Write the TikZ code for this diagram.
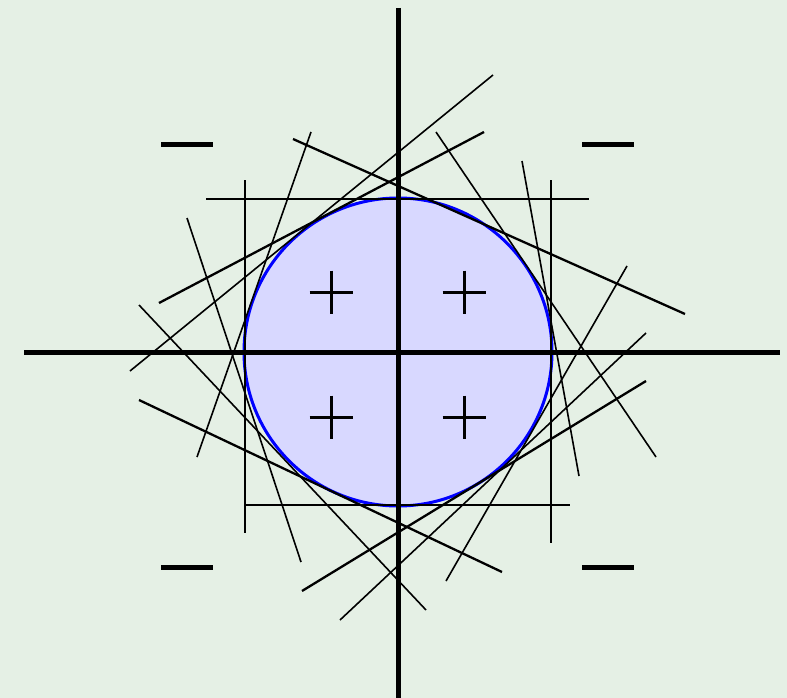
\documentclass[tikz,border=0pt]{standalone}
\begin{document}
\begin{tikzpicture}[x=1pt,y=-1pt,
  thin tangent/.style={line width=1.6pt,black},
  thick tangent/.style={line width=2.3pt,black},
  axis/.style={line width=5pt,black},
  plusmark/.style={line width=3pt,black},
  minusmark/.style={line width=5pt,black}]
\definecolor{bg}{RGB}{229,240,229}
\definecolor{disc}{RGB}{216,216,255}
\fill[bg] (0,0) rectangle (787,698);
\useasboundingbox (0,0) rectangle (787,698);
\coordinate (O) at (398,352);
% disc
\filldraw[fill=disc,draw=blue,line width=3pt] (O) circle (154);
% tangent square
\draw[thin tangent] (245,180) -- (245,533);
\draw[thin tangent] (551,180) -- (551,543);
\draw[thin tangent] (206,199) -- (589,199);
\draw[thin tangent] (244,505) -- (570,505);
% slanted tangents
\draw[thin tangent] (493,75) -- (130,371);
\draw[thick tangent] (484,132) -- (159,303);
\draw[thin tangent] (311,132) -- (197,457);
\draw[thick tangent] (293,139) -- (685,314);
\draw[thin tangent] (436,132) -- (656,457);
\draw[thin tangent] (522,161) -- (579,476);
\draw[thin tangent] (627,266) -- (446,581);
\draw[thin tangent] (646,333) -- (340,620);
\draw[thick tangent] (646,381) -- (302,591);
\draw[thin tangent] (139,305) -- (426,610);
\draw[thin tangent] (187,218) -- (301,562);
\draw[thick tangent] (139,400) -- (502,572);
% axes
\draw[axis] (24,352) -- (780,352);
\draw[axis] (398,8) -- (398,698);
% plus marks
\foreach \px/\py in {331/292, 464/292, 331/417, 464/417} {
  \draw[plusmark] (\px-21.5,\py) -- (\px+21.5,\py);
  \draw[plusmark] (\px,\py-21.5) -- (\px,\py+21.5);
}
% minus marks
\foreach \mx/\my in {187/145, 608/145, 187/567, 608/567} {
  \draw[minusmark] (\mx-26,\my) -- (\mx+26,\my);
}
\end{tikzpicture}
\end{document}
